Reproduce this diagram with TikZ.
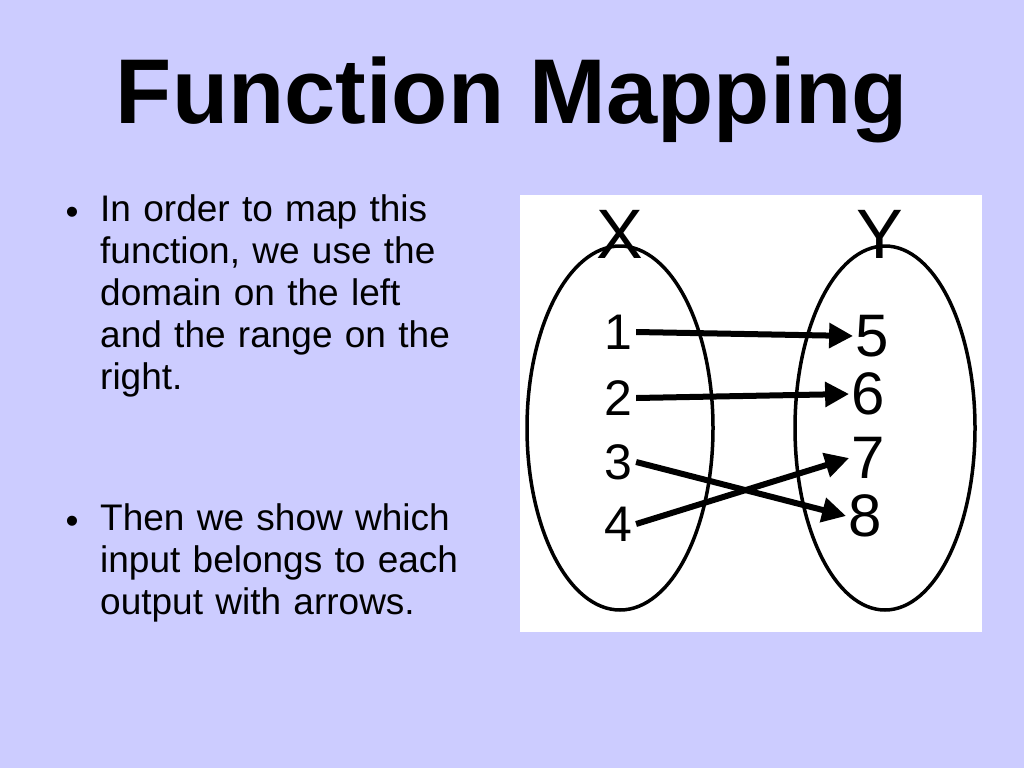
\documentclass[tikz,border=0pt]{standalone}
\usepackage{fontspec}
\setmainfont{Liberation Sans}
\usetikzlibrary{arrows.meta}
\definecolor{bg}{HTML}{CCCCFF}
\tikzset{numl/.style={font=\fontsize{50}{50}\selectfont,inner sep=4pt},
 numr/.style={font=\fontsize{60}{60}\selectfont,inner sep=2pt},
 arr/.style={line width=6pt,-{Triangle[length=24pt,width=24pt]}},
 body/.style={anchor=north west,align=left,text width=420pt,font=\fontsize{37}{42}\selectfont,inner sep=0pt}}
\begin{document}
\begin{tikzpicture}[x=1pt,y=-1pt]
\fill[bg] (0,0) rectangle (1024,768);
\useasboundingbox (0,0) rectangle (1024,768);
\node[font=\bfseries\fontsize{92}{92}\selectfont] (title) at (512,100) {Function Mapping};
\node[font=\fontsize{37}{42}\selectfont] (b1) at (72,216) {•};
\node[body] (t1) at (100,194) {In order to map this\\function, we use the\\domain on the left\\and the range on the\\right.};
\node[font=\fontsize{37}{42}\selectfont] (b2) at (72,525) {•};
\node[body] (t2) at (100,503) {Then we show which\\input belongs to each\\output with arrows.};
\fill[white] (520,195) rectangle (982,632);
\draw[line width=3.5pt] (620,428) ellipse [x radius=93, y radius=182];
\draw[line width=3.5pt] (885,428) ellipse [x radius=90, y radius=182];
\node[font=\fontsize{70}{70}\selectfont] (X) at (620,234) {X};
\node[font=\fontsize{70}{70}\selectfont] (Y) at (880,234) {Y};
\node[numl] (n1) at (618,332) {1};
\node[numl] (n2) at (618,398) {2};
\node[numl] (n3) at (618,462) {3};
\node[numl] (n4) at (618,524) {4};
\node[numr] (n5) at (872,336) {5};
\node[numr] (n6) at (868,394) {6};
\node[numr] (n7) at (868,458) {7};
\node[numr] (n8) at (865,516) {8};
\draw[arr] (n1.east) -- (n5.west);
\draw[arr] (n2.east) -- (n6.west);
\draw[arr] (n3.east) -- (n8.west);
\draw[arr] (n4.east) -- (n7.west);
\end{tikzpicture}
\end{document}
